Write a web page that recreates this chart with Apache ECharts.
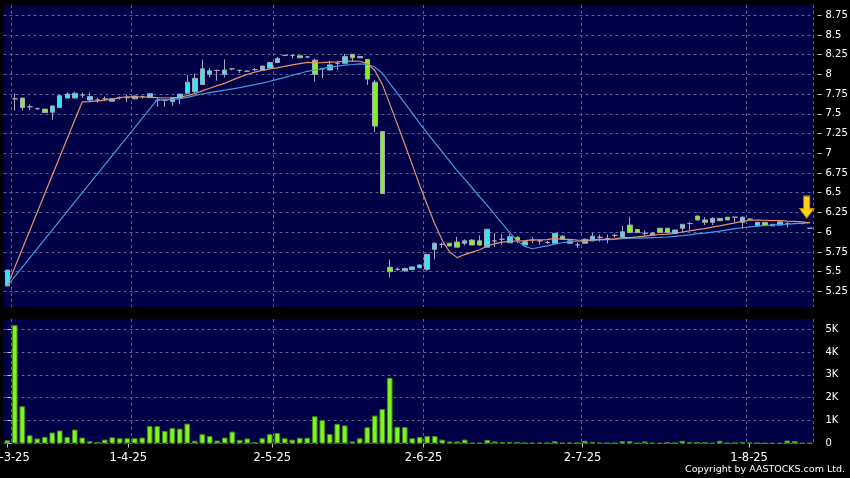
<!DOCTYPE html>
<html><head><meta charset="utf-8">
<script src="https://cdn.jsdelivr.net/npm/echarts@6/dist/echarts.min.js"></script>
<style>html,body{margin:0;padding:0;background:#000;}#c{width:850px;height:478px;}</style>
</head><body><div id="c"></div>
<script>
const dates = [
 '10-3-25','11-3-25','12-3-25','13-3-25','14-3-25','17-3-25','18-3-25','19-3-25','20-3-25','21-3-25','24-3-25','25-3-25','26-3-25','27-3-25','28-3-25','31-3-25',
 '1-4-25','2-4-25','3-4-25','7-4-25','8-4-25','9-4-25','10-4-25','11-4-25','14-4-25','15-4-25','16-4-25','17-4-25','22-4-25','23-4-25','24-4-25','25-4-25','28-4-25','29-4-25','30-4-25',
 '2-5-25','6-5-25','7-5-25','8-5-25','9-5-25','12-5-25','13-5-25','14-5-25','15-5-25','16-5-25','19-5-25','20-5-25','21-5-25','22-5-25','23-5-25','26-5-25','27-5-25','28-5-25','29-5-25','30-5-25',
 '2-6-25','3-6-25','4-6-25','5-6-25','6-6-25','9-6-25','10-6-25','11-6-25','12-6-25','13-6-25','16-6-25','17-6-25','18-6-25','19-6-25','20-6-25','23-6-25','24-6-25','25-6-25','26-6-25','27-6-25','30-6-25',
 '2-7-25','3-7-25','4-7-25','7-7-25','8-7-25','9-7-25','10-7-25','11-7-25','14-7-25','15-7-25','16-7-25','17-7-25','18-7-25','21-7-25','22-7-25','23-7-25','24-7-25','25-7-25','28-7-25','29-7-25','30-7-25','31-7-25',
 '1-8-25','4-8-25','5-8-25','6-8-25','7-8-25','8-8-25','11-8-25','12-8-25','13-8-25','14-8-25'
];
const openP = [5.32,7.69,7.70,7.59,7.565,7.56,7.52,7.58,7.70,7.70,7.74,7.675,7.675,7.69,7.66,7.705,
 7.705,7.69,7.72,7.705,7.67,7.67,7.655,7.695,7.76,7.78,7.87,8.00,8.05,8.00,8.07,8.05,8.04,8.06,8.05,
 8.08,8.15,8.24,8.24,8.235,8.22,8.18,8.07,8.055,8.14,8.14,8.255,8.21,8.19,7.90,7.275,5.555,5.53,5.51,5.525,
 5.55,5.53,5.783,5.846,5.86,5.875,5.86,5.90,5.89,5.81,5.89,5.91,5.867,5.935,5.838,5.90,5.89,5.87,5.86,5.95,5.86,
 5.84,5.86,5.89,5.935,5.92,5.96,5.94,6.09,6.035,5.985,5.99,6.05,6.05,5.985,6.05,6.11,6.205,6.155,6.125,6.175,6.19,6.19,
 6.125,6.165,6.08,6.125,6.08,6.09,6.11,6.11,6.11,6.05];
const closeP = [5.52,7.69,7.58,7.59,7.565,7.515,7.60,7.73,7.75,7.76,7.74,7.72,7.675,7.69,7.69,7.705,
 7.705,7.725,7.72,7.755,7.67,7.67,7.705,7.75,7.90,7.95,8.07,8.045,8.05,8.055,8.07,8.05,8.04,8.06,8.105,
 8.15,8.20,8.24,8.24,8.21,8.22,8.00,8.07,8.12,8.14,8.225,8.21,8.225,7.94,7.345,6.49,5.50,5.53,5.54,5.56,
 5.585,5.72,5.86,5.846,5.825,5.81,5.89,5.838,5.838,6.037,5.89,5.91,5.943,5.90,5.88,5.90,5.89,5.87,5.985,5.91,5.89,
 5.84,5.91,5.95,5.935,5.92,5.96,6.005,5.995,5.995,5.985,5.965,5.995,5.995,6.027,6.10,6.11,6.155,6.125,6.175,6.145,6.155,6.19,
 6.19,6.165,6.125,6.085,6.10,6.13,6.11,6.11,6.11,6.05];
const lowP = [5.32,7.54,7.54,7.55,7.55,7.51,7.42,7.58,7.70,7.70,7.70,7.66,7.64,7.66,7.66,7.68,
 7.65,7.69,7.69,7.705,7.59,7.59,7.60,7.62,7.76,7.75,7.87,7.96,7.92,7.96,8.05,8.02,8.03,8.04,8.05,
 8.08,8.15,8.23,8.20,8.21,8.21,7.91,7.95,8.05,8.06,8.14,8.16,8.21,7.865,7.27,6.49,5.43,5.51,5.50,5.52,
 5.54,5.51,5.655,5.80,5.82,5.81,5.83,5.838,5.83,5.81,5.81,5.84,5.867,5.86,5.838,5.86,5.84,5.85,5.86,5.91,5.85,
 5.80,5.86,5.89,5.88,5.86,5.93,5.94,5.995,5.99,5.95,5.96,5.99,5.99,5.98,6.00,6.02,6.15,6.09,6.09,6.14,6.15,6.13,
 6.04,6.15,6.08,6.08,6.08,6.09,6.06,6.10,6.10,6.05];
const highP = [5.52,7.76,7.70,7.62,7.58,7.56,7.60,7.73,7.77,7.78,7.77,7.77,7.70,7.72,7.69,7.72,
 7.74,7.73,7.73,7.76,7.70,7.68,7.71,7.75,7.99,8.01,8.19,8.08,8.06,8.19,8.08,8.06,8.05,8.08,8.11,
 8.15,8.22,8.25,8.25,8.24,8.23,8.20,8.08,8.17,8.17,8.26,8.255,8.23,8.19,7.93,7.275,5.655,5.55,5.55,5.56,
 5.59,5.72,5.87,5.87,5.86,5.94,5.91,5.91,5.96,6.04,5.99,5.98,5.98,5.95,5.89,5.94,5.90,5.89,5.99,5.96,5.90,
 5.87,5.92,5.99,5.97,5.97,5.98,6.08,6.195,6.04,6.02,6.00,6.05,6.05,6.03,6.10,6.13,6.21,6.19,6.19,6.18,6.19,6.19,
 6.20,6.18,6.13,6.13,6.10,6.13,6.13,6.12,6.12,6.05];
const volumeK = [0.14,5.17,1.63,0.36,0.22,0.29,0.48,0.57,0.29,0.61,0.26,0.10,0.07,0.17,0.27,0.23,
 0.23,0.23,0.26,0.76,0.76,0.55,0.68,0.65,0.87,0.12,0.41,0.33,0.13,0.26,0.52,0.16,0.22,0.06,0.23,
 0.41,0.46,0.23,0.17,0.25,0.25,1.19,1.02,0.41,0.86,0.79,0.09,0.23,0.71,1.22,1.51,2.87,0.73,0.72,0.23,
 0.28,0.33,0.33,0.17,0.09,0.09,0.17,0.03,0.03,0.16,0.09,0.06,0.07,0.07,0.03,0.03,0.04,0.04,0.10,0.03,0.04,
 0.04,0.12,0.07,0.03,0.03,0.03,0.10,0.10,0.03,0.09,0.03,0.02,0.06,0.03,0.12,0.06,0.06,0.06,0.02,0.12,0.03,0.04,
 0.07,0.04,0.03,0.02,0.02,0.02,0.13,0.11,0.02,0.02];
const maStart = 5.32;
const priceTicks = [5.25,5.5,5.75,6,6.25,6.5,6.75,7,7.25,7.5,7.75,8,8.25,8.5,8.75];
const volumeTicks = [0,1,2,3,4,5];
const monthLabels = ['10-3-25','1-4-25','2-5-25','2-6-25','2-7-25','1-8-25'];

const labelIdx = monthLabels.map(d => dates.indexOf(d));
const gridLineIdx = labelIdx.map(i => i + 1);
const candles = dates.map((d, i) => [openP[i], closeP[i], lowP[i], highP[i]]);
function sma(n) {
  return closeP.map((c, i) => {
    if (i === 0) return maStart;
    if (i < n) return null;
    let s = 0; for (let k = i - n + 1; k <= i; k++) s += closeP[k];
    return +(s / n).toFixed(4);
  });
}
const FONT = 'DejaVu Sans';
const gridLine = { show: true, lineStyle: { color: '#59639a', type: [3, 3], width: 1 } };
const chart = echarts.init(document.getElementById('c'), null, { renderer: 'canvas' });
chart.setOption({
  animation: false,
  backgroundColor: '#000000',
  grid: [
    { left: 3.5, top: 5, width: 810, height: 302, show: true, backgroundColor: '#000046', borderWidth: 0,
      containLabel: false, outerBoundsMode: 'none' },
    { left: 3.5, top: 319, width: 810, height: 124.5, show: true, backgroundColor: '#000046', borderWidth: 0,
      containLabel: false, outerBoundsMode: 'none' }
  ],
  xAxis: [
    { type: 'category', gridIndex: 0, data: dates, boundaryGap: true,
      axisLine: { show: false }, axisTick: { show: false }, axisLabel: { show: false },
      splitLine: Object.assign({ interval: (i) => gridLineIdx.includes(i) }, gridLine) },
    { type: 'category', gridIndex: 1, data: dates, boundaryGap: true, position: 'bottom',
      axisLine: { show: false }, axisTick: { show: false }, axisLabel: { show: false },
      splitLine: Object.assign({ interval: (i) => gridLineIdx.includes(i) }, gridLine) },
    { type: 'value', gridIndex: 1, position: 'bottom', min: -0.5, max: dates.length - 1.5,
      axisLine: { show: false, onZero: false },
      axisTick: { show: true, length: 4, customValues: labelIdx, lineStyle: { color: '#c8c8c8' } },
      axisLabel: { show: true, customValues: labelIdx, formatter: (v) => dates[v], color: '#ffffff',
        fontFamily: FONT, fontSize: 11.5, margin: 9, hideOverlap: false },
      splitLine: { show: false } }
  ],
  yAxis: [
    { type: 'value', gridIndex: 0, position: 'right', min: 5.052, max: 8.879, offset: 4,
      axisLine: { show: false },
      axisTick: { show: true, length: 4, customValues: priceTicks, lineStyle: { color: '#c8c8c8' } },
      axisLabel: { color: '#ffffff', fontFamily: FONT, fontSize: 10, margin: 8, customValues: priceTicks },
      splitLine: gridLine },
    { type: 'value', gridIndex: 1, position: 'right', min: 0, max: 5.44, offset: 4,
      axisLine: { show: false },
      axisTick: { show: true, length: 4, customValues: volumeTicks, lineStyle: { color: '#c8c8c8' } },
      axisLabel: { color: '#ffffff', fontFamily: FONT, fontSize: 10, margin: 8, customValues: volumeTicks,
        formatter: (v) => v === 0 ? '0' : v + 'K' },
      splitLine: gridLine }
  ],
  series: [
    { type: 'candlestick', xAxisIndex: 0, yAxisIndex: 0, data: candles, barWidth: 5,
      itemStyle: { color: '#35e6f2', color0: '#80f222', borderColor: '#a2a8b8', borderColor0: '#a2a8b8',
        borderColorDoji: '#a2a8b8', borderWidth: 1 },
      markPoint: {
        symbol: 'path://M4,0 L10,0 L10,13 L14,13 L7,23 L0,13 L4,13 Z',
        symbolSize: [14, 22], symbolKeepAspect: false,
        label: { show: false },
        itemStyle: { color: '#ffd21a', borderColor: '#d08a00', borderWidth: 1 },
        data: [{ coord: [dates[dates.length - 1], closeP[closeP.length - 1]], symbolOffset: [-3, -21] }]
      } },
    { type: 'line', name: 'MA20', xAxisIndex: 0, yAxisIndex: 0, data: sma(20), connectNulls: true,
      showSymbol: false, symbol: 'none', lineStyle: { color: '#3a9fe6', width: 1.2 } },
    { type: 'line', name: 'MA10', xAxisIndex: 0, yAxisIndex: 0, data: sma(10), connectNulls: true,
      showSymbol: false, symbol: 'none', lineStyle: { color: '#e8926c', width: 1.2 } },
    { type: 'bar', xAxisIndex: 1, yAxisIndex: 1, data: volumeK, barWidth: 5.6,
      itemStyle: { color: '#80f41f', borderColor: '#3f8c12', borderWidth: 1 } }
  ],
  graphic: [
    { type: 'text', right: 5, top: 465, style: { text: 'Copyright by AASTOCKS.com Ltd.', fill: '#ffffff',
      font: '9.5px "DejaVu Sans"' } }
  ]
});
</script></body></html>
